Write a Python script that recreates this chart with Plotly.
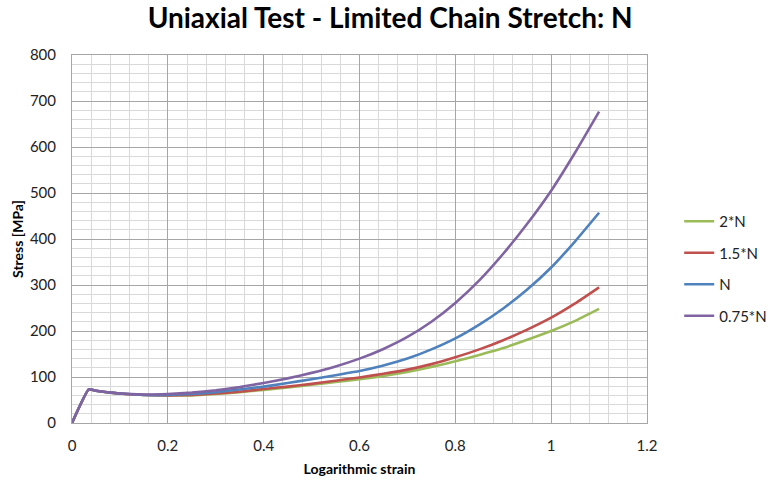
import plotly.graph_objects as go

strain = [0, 0.035, 0.05, 0.1, 0.15, 0.2, 0.25, 0.3, 0.35, 0.4, 0.45, 0.5, 0.55,
          0.6, 0.65, 0.7, 0.75, 0.8, 0.85, 0.9, 0.95, 1.0, 1.05, 1.1]

stress_2N = [0, 73, 70, 64, 61, 60, 60, 63, 67, 72, 77, 83, 89,
             95, 102, 111, 122, 134, 148, 163, 181, 200, 222, 248]
stress_15N = [0, 73, 70, 64, 61, 60, 61, 64, 68, 74, 79, 85, 92,
              99, 107, 116, 128, 143, 160, 180, 203, 229, 260, 295]
stress_N = [0, 73, 70, 64, 61, 61, 63, 67, 73, 79, 87, 95, 104,
            113, 125, 140, 160, 184, 214, 249, 290, 338, 395, 457]
stress_075N = [0, 73, 70, 64, 62, 63, 66, 71, 78, 87, 97, 109, 123,
               140, 161, 187, 220, 261, 310, 368, 433, 505, 588, 677]

series_names = ["2*N", "1.5*N", "N", "0.75*N"]
series_vals = [stress_2N, stress_15N, stress_N, stress_075N]
colors = ["#9BBB59", "#C0504D", "#4F81BD", "#8064A2"]

FONT = "Lato"

fig = go.Figure()
for name, vals, col in zip(series_names, series_vals, colors):
    fig.add_trace(go.Scatter(
        x=strain, y=vals, name=name, mode="lines",
        line=dict(color=col, width=2.6, shape="spline", smoothing=0.4),
        legendgroup=name,
    ))

fig.update_layout(
    width=768, height=482,
    paper_bgcolor="white", plot_bgcolor="white",
    margin=dict(l=72, r=121, t=55, b=59, autoexpand=False),
    font=dict(family=FONT, size=15, color="#222222"),
    title=dict(text="<b>Uniaxial Test - Limited Chain Stretch: N</b>",
               x=0.508, xanchor="center", y=0.962, yanchor="middle",
               font=dict(family=FONT, size=28, color="#000000")),
    legend=dict(x=1.056, xanchor="left", y=0.42, yanchor="middle",
                font=dict(family=FONT, size=15, color="#222222"),
                tracegroupgap=9, itemwidth=30, bgcolor="rgba(0,0,0,0)"),
    showlegend=True,
)

fig.update_xaxes(
    range=[0, 1.2], dtick=0.2, tick0=0,
    showgrid=True, gridcolor="#a6a6a6", gridwidth=1,
    minor=dict(dtick=0.04, showgrid=True, gridcolor="#d9d9d9", gridwidth=1),
    showline=True, linecolor="#a6a6a6", linewidth=1, mirror=True,
    zeroline=False, ticks="", ticklen=0, ticklabelstandoff=9,
    tickfont=dict(family=FONT, size=15, color="#222222"),
    title=dict(text="<b>Logarithmic strain</b>", standoff=11,
               font=dict(family=FONT, size=14, color="#000000")),
)
fig.update_yaxes(
    range=[0, 800], dtick=100, tick0=0,
    showgrid=True, gridcolor="#a6a6a6", gridwidth=1,
    minor=dict(dtick=20, showgrid=True, gridcolor="#d9d9d9", gridwidth=1),
    showline=True, linecolor="#a6a6a6", linewidth=1, mirror=True,
    zeroline=False, ticks="", ticklen=0, ticklabelstandoff=12,
    tickfont=dict(family=FONT, size=15, color="#222222"),
    title=dict(text="<b>Stress [MPa]</b>", standoff=2,
               font=dict(family=FONT, size=14, color="#000000")),
)

fig.write_html("out.html")
